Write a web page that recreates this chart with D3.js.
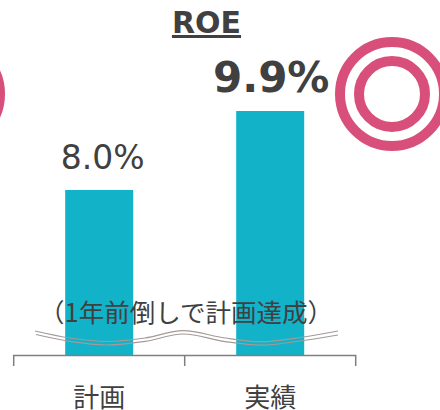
<!DOCTYPE html>
<html>
<head>
<meta charset="utf-8">
<script src="https://cdn.jsdelivr.net/npm/d3@7"></script>
<style>
  html, body { margin: 0; padding: 0; background: #fff; }
  text { font-family: "DejaVu Sans", "Noto Sans CJK JP", sans-serif; fill: #404040; }
</style>
</head>
<body>
<div id="svg-container"></div>
<script>
const categories = ["計画", "実績"];
const roeValues = [8.0, 9.9];
const valueLabels = ["8.0%", "9.9%"];
const chartTitle = "ROE";
const note = "（1年前倒しで計画達成）";

const width = 440, height = 410;

const svg = d3.select("#svg-container")
  .append("svg")
  .attr("width", width)
  .attr("height", height)
  .style("display", "block");

const x = d3.scaleBand().domain(categories).range([13.7, 355.7]);
// the axis is cut by the wave, so it does not start at zero
const y = d3.scaleLinear().domain([4.03, 9.9]).range([355, 111]);
const barWidth = 68;
const baseY = y.range()[0];

/** Target rings */
[[-52, 94], [392, 94]].forEach(c => {
  [[52, 10], [33, 10]].forEach(r => {
    svg.append("circle")
      .attr("cx", c[0])
      .attr("cy", c[1])
      .attr("r", r[0])
      .attr("fill", "none")
      .attr("stroke", "#d94f7c")
      .attr("stroke-width", r[1]);
  });
});

/** Bars */
svg.append("g")
  .selectAll("rect")
  .data(roeValues)
  .enter()
  .append("rect")
  .attr("x", (d, i) => x(categories[i]) + x.bandwidth() / 2 - barWidth / 2)
  .attr("y", d => y(d))
  .attr("width", barWidth)
  .attr("height", d => baseY - y(d))
  .attr("fill", "#12b2c9");

/** Axis line with bracket ticks */
const axis = svg.append("g").attr("fill", "none").attr("stroke", "#7f7f7f").attr("stroke-width", 1.5);
axis.append("path").attr("d", `M${x.range()[0]},${baseY + 11}V${baseY + 0.5}H${x.range()[1]}V${baseY + 11}`);
axis.append("line")
  .attr("x1", x(categories[1])).attr("x2", x(categories[1]))
  .attr("y1", baseY).attr("y2", baseY + 11);

/** Category labels */
svg.append("g")
  .selectAll("text")
  .data(categories)
  .enter()
  .append("text")
  .attr("x", d => x(d) + x.bandwidth() / 2)
  .attr("y", 407)
  .attr("text-anchor", "middle")
  .style("font-size", "26px")
  .style("font-family", '"Noto Sans CJK JP", sans-serif')
  .text(d => d);

/** Wave break, two thin lines */
const wave = d3.line().curve(d3.curveCatmullRom);
const waveUpper = [[35, 331], [70, 338], [107, 341.5], [145, 338], [183, 330.7], [225, 338], [262, 341.7], [300, 337.5], [338, 331]];
const waveLower = [[36, 334.5], [70, 341.4], [107, 345], [145, 341.4], [183, 334], [225, 341.6], [262, 345.2], [300, 341], [338, 335]];
[waveUpper, waveLower].forEach(pts => {
  svg.append("path")
    .attr("d", wave(pts))
    .attr("fill", "none")
    .attr("stroke", "#a39a98")
    .attr("stroke-width", 1.2);
});

/** Value labels */
svg.append("text")
  .attr("x", x(categories[0]) + x.bandwidth() / 2 + 3.5)
  .attr("y", 169)
  .attr("text-anchor", "middle")
  .style("font-size", "33px")
  .text(valueLabels[0]);

svg.append("text")
  .attr("x", x(categories[1]) + x.bandwidth() / 2 + 1)
  .attr("y", 92)
  .attr("text-anchor", "middle")
  .style("font-size", "42px")
  .style("font-weight", "bold")
  .text(valueLabels[1]);

/** Title */
svg.append("text")
  .attr("x", 206.5)
  .attr("y", 33)
  .attr("text-anchor", "middle")
  .style("font-size", "30px")
  .style("font-weight", "bold")
  .style("text-decoration", "underline")
  .text(chartTitle);

/** Note */
svg.append("text")
  .attr("x", 186)
  .attr("y", 322)
  .attr("text-anchor", "middle")
  .style("font-size", "25.5px")
  .style("font-family", '"Noto Sans CJK JP", sans-serif')
  .text(note);
</script>
</body>
</html>
